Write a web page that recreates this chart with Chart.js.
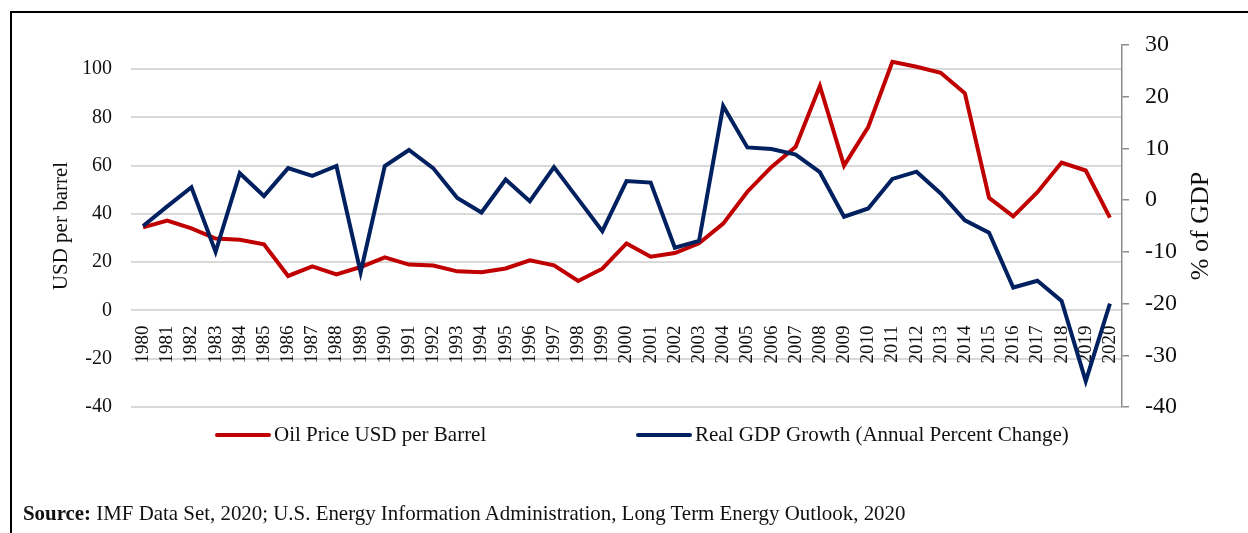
<!DOCTYPE html>
<html>
<head>
<meta charset="utf-8">
<script src="https://cdn.jsdelivr.net/npm/chart.js@4/dist/chart.umd.min.js"></script>
<style>
  body { margin: 0; background: #fff; }
  #frame { position: absolute; left: 10px; top: 11px; width: 1300px; height: 600px;
           border-left: 2px solid #000; border-top: 2px solid #000; }
  #myChart { position: absolute; left: 0; top: 0; }
  #source { position: absolute; left: 23px; top: 501px; font-family: 'Liberation Serif', 'Times New Roman', serif;
            font-size: 20.9px; color: #111; white-space: nowrap; }
</style>
</head>
<body>
<div id="frame"></div>
<canvas id="myChart" width="1248" height="533"></canvas>
<div id="source"><b>Source:</b> IMF Data Set, 2020; U.S. Energy Information Administration, Long Term Energy Outlook, 2020</div>
<script>
//DATA
//-----------------------------------------
let years = ['1980','1981','1982','1983','1984','1985','1986','1987','1988','1989',
             '1990','1991','1992','1993','1994','1995','1996','1997','1998','1999',
             '2000','2001','2002','2003','2004','2005','2006','2007','2008','2009',
             '2010','2011','2012','2013','2014','2015','2016','2017','2018','2019','2020']

//oil price, USD per barrel (left axis)
let oilPrice = [34.4, 37.2, 34, 29.8, 29.3, 27.4, 14.3, 18.3, 14.9, 18, 
                22, 19, 18.6, 16.2, 15.8, 17.4, 20.8, 18.7, 12.2, 17.3,
                27.8, 22.3, 23.8, 27.8, 36, 49.2, 59.5, 67.8, 93, 60,
                76, 103, 101, 98.5, 90, 46.7, 39, 49, 61.3, 58, 38.5]

//real GDP growth, % (right axis)
let gdpGrowth = [-5, -1.2, 2.5, -10, 5.2, 0.8, 6.2, 4.7, 6.6, -14,
                 6.6, 9.7, 6.2, 0.4, -2.4, 4, -0.2, 6.4, 0.2, -6,
                 3.7, 3.4, -9.2, -7.9, 18.2, 10.2, 9.9, 8.8, 5.4, -3.2,
                 -1.6, 4.1, 5.5, 1.3, -3.9, -6.3, -16.9, -15.6, -19.5, -35, -20]

//tick labels
let usdTicks = [-40, -20, 0, 20, 40, 60, 80, 100]
let gdpTicks = [-40, -30, -20, -10, 0, 10, 20, 30]

let oilLabel = 'Oil Price USD per Barrel'
let gdpLabel = 'Real GDP Growth (Annual Percent Change)'

//-----------------------------------------

let serif = "'Liberation Serif', 'Times New Roman', serif"
let textColor = '#111'

//draws the legend under the plot and the right axis title (reads bottom to top)
let extraText = {
    id: 'extraText',
    afterDraw(chart) {
        let ctx = chart.ctx
        ctx.save()
        ctx.font = '21px ' + serif
        ctx.textBaseline = 'middle'
        ctx.textAlign = 'left'
        let legendX = [217, 638]
        let legendY = 435
        for (let i = 0; i < chart.data.datasets.length; i++) {
            let ds = chart.data.datasets[i]
            ctx.strokeStyle = ds.borderColor
            ctx.lineWidth = 4
            ctx.lineCap = 'round'
            ctx.beginPath()
            ctx.moveTo(legendX[i], legendY)
            ctx.lineTo(legendX[i] + 52, legendY)
            ctx.stroke()
            ctx.fillStyle = textColor
            ctx.fillText(ds.label, legendX[i] + 57, legendY)
        }

        //right axis title
        let area = chart.chartArea
        ctx.translate(1201, (area.top + area.bottom) / 2)
        ctx.rotate(-Math.PI / 2)
        ctx.textAlign = 'center'
        ctx.font = '26px ' + serif
        ctx.fillText('% of GDP', 0, 0)
        ctx.restore()
    }
}

var ctx = document.getElementById('myChart').getContext('2d');
var mychart = new Chart(ctx, {
    type: 'line',
    data: {
        labels: years,
        datasets: [{
            label: oilLabel,
            data: oilPrice,
            yAxisID: 'y',
            borderColor: '#C00000',
            backgroundColor: '#C00000',
            borderWidth: 4,
            pointRadius: 0,
            tension: 0,
            order: 1
        }, {
            label: gdpLabel,
            data: gdpGrowth,
            yAxisID: 'y1',
            borderColor: '#002060',
            backgroundColor: '#002060',
            borderWidth: 4,
            pointRadius: 0,
            tension: 0,
            order: 0
        }]
    },
    options: {
        responsive: false,
        animation: false,
        layout: { padding: { top: 45, bottom: 126, left: 0, right: 0 } },
        plugins: {
            legend: { display: false },
            tooltip: { enabled: false }
        },
        scales: {
            x: {
                type: 'category',
                offset: true,
                position: { y: 0 },
                grid: { display: false, drawTicks: false },
                border: { display: false },
                ticks: {
                    autoSkip: false,
                    minRotation: 90,
                    maxRotation: 90,
                    padding: 15,
                    color: textColor,
                    font: { family: serif, size: 19 }
                }
            },
            y: {
                position: 'left',
                min: -40,
                max: 110,
                afterBuildTicks: function (axis) {
                    axis.ticks = usdTicks.map(v => ({ value: v }))
                },
                afterFit: function (axis) { axis.width = 131 },
                grid: { color: '#d9d9d9', lineWidth: 2, drawTicks: false },
                border: { display: false },
                ticks: { padding: 19, color: textColor, font: { family: serif, size: 20 } },
                title: {
                    display: true,
                    text: 'USD per barrel',
                    color: textColor,
                    font: { family: serif, size: 21 },
                    padding: { top: 49, bottom: 0 }
                }
            },
            y1: {
                position: 'right',
                min: -40,
                max: 30,
                afterBuildTicks: function (axis) {
                    axis.ticks = gdpTicks.map(v => ({ value: v }))
                },
                afterFit: function (axis) { axis.width = 126 },
                grid: { drawOnChartArea: false, tickLength: 7, tickColor: '#8c8c8c', lineWidth: 1.5 },
                border: { display: true, color: '#8c8c8c', width: 1.5 },
                ticks: { padding: 16, color: textColor, font: { family: serif, size: 24 } }
            }
        }
    },
    plugins: [extraText]
});
</script>
</body>
</html>
